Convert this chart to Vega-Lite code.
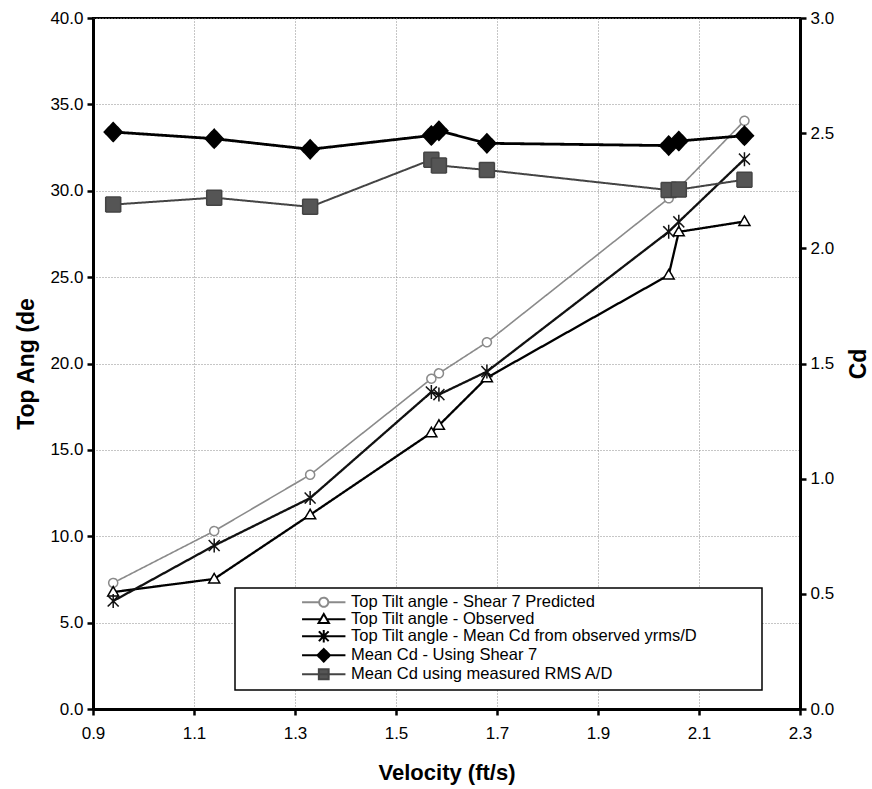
{
  "$schema": "https://vega.github.io/schema/vega-lite/v6.json",
  "width": 707,
  "height": 691,
  "autosize": {"type": "none"},
  "padding": {"left": 93, "top": 18, "right": 72, "bottom": 80},
  "background": "white",
  "config": {
    "font": "Liberation Sans",
    "view": {"stroke": "black", "strokeWidth": 2},
    "axis": {
      "labelFontSize": 17,
      "labelColor": "black",
      "titleColor": "black",
      "titleFontWeight": "bold",
      "domainColor": "black",
      "domainWidth": 3,
      "tickColor": "black",
      "tickWidth": 2.5,
      "tickSize": 6,
      "labelPadding": 4,
      "gridColor": "#8c8c8c",
      "gridDash": [1, 2],
      "gridWidth": 1,
      "labelFlush": false,
      "labelOverlap": false
    }
  },
  "datasets": {
    "angle": [
      {"v": 0.94, "series": "Top Tilt angle - Shear 7 Predicted", "value": 7.3},
      {"v": 1.14, "series": "Top Tilt angle - Shear 7 Predicted", "value": 10.3},
      {"v": 1.33, "series": "Top Tilt angle - Shear 7 Predicted", "value": 13.56},
      {"v": 1.57, "series": "Top Tilt angle - Shear 7 Predicted", "value": 19.12},
      {"v": 1.585, "series": "Top Tilt angle - Shear 7 Predicted", "value": 19.43},
      {"v": 1.68, "series": "Top Tilt angle - Shear 7 Predicted", "value": 21.23},
      {"v": 2.04, "series": "Top Tilt angle - Shear 7 Predicted", "value": 29.56},
      {"v": 2.19, "series": "Top Tilt angle - Shear 7 Predicted", "value": 34.05},
      {"v": 0.94, "series": "Top Tilt angle - Observed", "value": 6.77},
      {"v": 1.14, "series": "Top Tilt angle - Observed", "value": 7.53},
      {"v": 1.33, "series": "Top Tilt angle - Observed", "value": 11.24},
      {"v": 1.57, "series": "Top Tilt angle - Observed", "value": 15.99},
      {"v": 1.585, "series": "Top Tilt angle - Observed", "value": 16.42},
      {"v": 1.68, "series": "Top Tilt angle - Observed", "value": 19.18},
      {"v": 2.04, "series": "Top Tilt angle - Observed", "value": 25.12},
      {"v": 2.06, "series": "Top Tilt angle - Observed", "value": 27.62},
      {"v": 2.19, "series": "Top Tilt angle - Observed", "value": 28.22},
      {"v": 0.94, "series": "Top Tilt angle - Mean Cd from observed yrms/D", "value": 6.25},
      {"v": 1.14, "series": "Top Tilt angle - Mean Cd from observed yrms/D", "value": 9.46},
      {"v": 1.33, "series": "Top Tilt angle - Mean Cd from observed yrms/D", "value": 12.21},
      {"v": 1.57, "series": "Top Tilt angle - Mean Cd from observed yrms/D", "value": 18.35},
      {"v": 1.585, "series": "Top Tilt angle - Mean Cd from observed yrms/D", "value": 18.2},
      {"v": 1.68, "series": "Top Tilt angle - Mean Cd from observed yrms/D", "value": 19.53},
      {"v": 2.04, "series": "Top Tilt angle - Mean Cd from observed yrms/D", "value": 27.63},
      {"v": 2.06, "series": "Top Tilt angle - Mean Cd from observed yrms/D", "value": 28.2},
      {"v": 2.19, "series": "Top Tilt angle - Mean Cd from observed yrms/D", "value": 31.83}
    ],
    "cd": [
      {"v": 0.94, "series": "Mean Cd - Using Shear 7", "value": 2.505},
      {"v": 1.14, "series": "Mean Cd - Using Shear 7", "value": 2.476},
      {"v": 1.33, "series": "Mean Cd - Using Shear 7", "value": 2.43},
      {"v": 1.57, "series": "Mean Cd - Using Shear 7", "value": 2.49},
      {"v": 1.585, "series": "Mean Cd - Using Shear 7", "value": 2.51},
      {"v": 1.68, "series": "Mean Cd - Using Shear 7", "value": 2.456},
      {"v": 2.04, "series": "Mean Cd - Using Shear 7", "value": 2.446},
      {"v": 2.06, "series": "Mean Cd - Using Shear 7", "value": 2.466},
      {"v": 2.19, "series": "Mean Cd - Using Shear 7", "value": 2.489},
      {"v": 0.94, "series": "Mean Cd using measured RMS A/D", "value": 2.19},
      {"v": 1.14, "series": "Mean Cd using measured RMS A/D", "value": 2.22},
      {"v": 1.33, "series": "Mean Cd using measured RMS A/D", "value": 2.18},
      {"v": 1.57, "series": "Mean Cd using measured RMS A/D", "value": 2.385},
      {"v": 1.585, "series": "Mean Cd using measured RMS A/D", "value": 2.36},
      {"v": 1.68, "series": "Mean Cd using measured RMS A/D", "value": 2.34},
      {"v": 2.04, "series": "Mean Cd using measured RMS A/D", "value": 2.253},
      {"v": 2.06, "series": "Mean Cd using measured RMS A/D", "value": 2.255},
      {"v": 2.19, "series": "Mean Cd using measured RMS A/D", "value": 2.298}
    ]
  },
  "encoding": {
    "x": {
      "field": "v",
      "type": "quantitative",
      "scale": {"domain": [0.9, 2.3], "nice": false, "zero": false},
      "axis": {
        "values": [0.9, 1.1, 1.3, 1.5, 1.7, 1.9, 2.1, 2.3],
        "format": ".1f",
        "title": "Velocity (ft/s)",
        "titleFontSize": 22,
        "titlePadding": 21,
        "labelPadding": 10,
        "grid": true
      }
    },
    "stroke": {
      "field": "series",
      "type": "nominal",
      "legend": null,
      "scale": {
        "domain": [
          "Mean Cd using measured RMS A/D",
          "Mean Cd - Using Shear 7",
          "Top Tilt angle - Mean Cd from observed yrms/D",
          "Top Tilt angle - Observed",
          "Top Tilt angle - Shear 7 Predicted"
        ],
        "range": ["#444444", "#000000", "#111111", "#000000", "#8a8a8a"]
      }
    },
    "strokeDash": {
      "field": "series",
      "type": "nominal",
      "title": " ",
      "scale": {
        "domain": [
          "Top Tilt angle - Shear 7 Predicted",
          "Top Tilt angle - Observed",
          "Top Tilt angle - Mean Cd from observed yrms/D",
          "Mean Cd - Using Shear 7",
          "Mean Cd using measured RMS A/D"
        ],
        "range": [[1, 0], [1, 0], [1, 0], [1, 0], [1, 0]]
      },
      "legend": {
        "orient": "none",
        "legendX": 142,
        "legendY": 570,
        "direction": "vertical",
        "padding": 6,
        "strokeColor": "black",
        "fillColor": "white",
        "titleOrient": "right",
        "titleFontSize": 4,
        "titlePadding": 59,
        "labelFontSize": 16.5,
        "labelColor": "black",
        "labelLimit": 0,
        "labelOffset": 19,
        "symbolOffset": 74.5,
        "symbolSize": 196,
        "symbolStrokeWidth": 2,
        "rowPadding": -4.5,
        "encode": {
          "legend": {"update": {"strokeWidth": {"value": 1.5}}},
          "symbols": {
            "update": {
              "shape": {"signal": "datum.value === 'Top Tilt angle - Shear 7 Predicted' ? 'M-3.1,0H-0.65M0.65,0H3.1M-0.65,0A0.65,0.65,0,1,0,0.65,0A0.65,0.65,0,1,0,-0.65,0Z' : datum.value === 'Top Tilt angle - Observed' ? 'M-3.1,0H-0.43M0.43,0H3.1M0,-0.75L0.75,0.55L-0.75,0.55Z' : datum.value === 'Top Tilt angle - Mean Cd from observed yrms/D' ? 'M-3.1,0H3.1M-0.7,-0.7L0.7,0.7M-0.7,0.7L0.7,-0.7M0,-0.9V0.9' : datum.value === 'Mean Cd - Using Shear 7' ? 'M-3.1,0H3.1M0,-0.9L0.9,0L0,0.9L-0.9,0Z' : 'M-3.1,0H3.1M-0.7,-0.7H0.7V0.7H-0.7Z'"},
              "fill": {"signal": "datum.value === 'Mean Cd - Using Shear 7' ? 'black' : datum.value === 'Mean Cd using measured RMS A/D' ? '#555555' : 'white'"},
              "stroke": {"signal": "datum.value === 'Top Tilt angle - Shear 7 Predicted' ? '#8a8a8a' : datum.value === 'Mean Cd using measured RMS A/D' ? '#444444' : 'black'"},
              "strokeWidth": {"value": 2},
              "size": {"value": 196},
              "opacity": {"value": 1}
            }
          }
        }
      }
    }
  },
  "layer": [
    {
      "data": {"name": "angle"},
      "encoding": {
        "y": {
          "field": "value",
          "type": "quantitative",
          "scale": {"domain": [0, 40], "nice": false},
          "axis": {
            "values": [0, 5, 10, 15, 20, 25, 30, 35, 40],
            "format": ".1f",
            "title": "Top Ang (de",
            "titleFontSize": 23,
            "titlePadding": 11,
            "grid": true
          }
        }
      },
      "layer": [
        {
          "transform": [{"filter": "datum.series === 'Top Tilt angle - Shear 7 Predicted'"}],
          "mark": {"type": "line", "strokeWidth": 1.6}
        },
        {
          "transform": [{"filter": "datum.series !== 'Top Tilt angle - Shear 7 Predicted'"}],
          "mark": {"type": "line", "strokeWidth": 2.3}
        },
        {
          "mark": {"type": "point", "size": 100, "strokeWidth": 1.5, "opacity": 1},
          "encoding": {
            "shape": {
              "field": "series",
              "type": "nominal",
              "legend": null,
              "scale": {
                "domain": [
                  "Mean Cd using measured RMS A/D",
                  "Mean Cd - Using Shear 7",
                  "Top Tilt angle - Mean Cd from observed yrms/D",
                  "Top Tilt angle - Observed",
                  "Top Tilt angle - Shear 7 Predicted"
                ],
                "range": [
                  "M-1.5,-1.5H1.5V1.5H-1.5Z",
                  "M0,-1.9L1.8,0L0,1.9L-1.8,0Z",
                  "M-1.1,-1.1L1.1,1.1M-1.1,1.1L1.1,-1.1M0,-1.4V1.4",
                  "M0,-1.1L1.1,0.8L-1.1,0.8Z",
                  "M-0.9,0A0.9,0.9,0,1,0,0.9,0A0.9,0.9,0,1,0,-0.9,0Z"
                ]
              }
            },
            "fill": {
              "field": "series",
              "type": "nominal",
              "legend": null,
              "scale": {
                "domain": [
                  "Mean Cd using measured RMS A/D",
                  "Mean Cd - Using Shear 7",
                  "Top Tilt angle - Mean Cd from observed yrms/D",
                  "Top Tilt angle - Observed",
                  "Top Tilt angle - Shear 7 Predicted"
                ],
                "range": ["#555555", "#000000", "#ffffff", "#ffffff", "#ffffff"]
              }
            }
          }
        }
      ]
    },
    {
      "data": {"name": "cd"},
      "encoding": {
        "y": {
          "field": "value",
          "type": "quantitative",
          "scale": {"domain": [0, 3], "nice": false},
          "axis": {
            "orient": "right",
            "values": [0, 0.5, 1, 1.5, 2, 2.5, 3],
            "format": ".1f",
            "title": "Cd",
            "titleAngle": 270,
            "titleBaseline": "top",
            "titleFontSize": 23,
            "titlePadding": 14,
            "grid": false
          }
        }
      },
      "layer": [
        {
          "transform": [{"filter": "datum.series === 'Mean Cd - Using Shear 7'"}],
          "mark": {"type": "line", "strokeWidth": 2.8}
        },
        {
          "transform": [{"filter": "datum.series !== 'Mean Cd - Using Shear 7'"}],
          "mark": {"type": "line", "strokeWidth": 2}
        },
        {
          "mark": {"type": "point", "size": 100, "strokeWidth": 1.5, "opacity": 1},
          "encoding": {
            "shape": {"field": "series", "type": "nominal", "legend": null},
            "fill": {"field": "series", "type": "nominal", "legend": null}
          }
        }
      ]
    }
  ],
  "resolve": {"scale": {"y": "independent"}, "axis": {"y": "independent"}}
}
